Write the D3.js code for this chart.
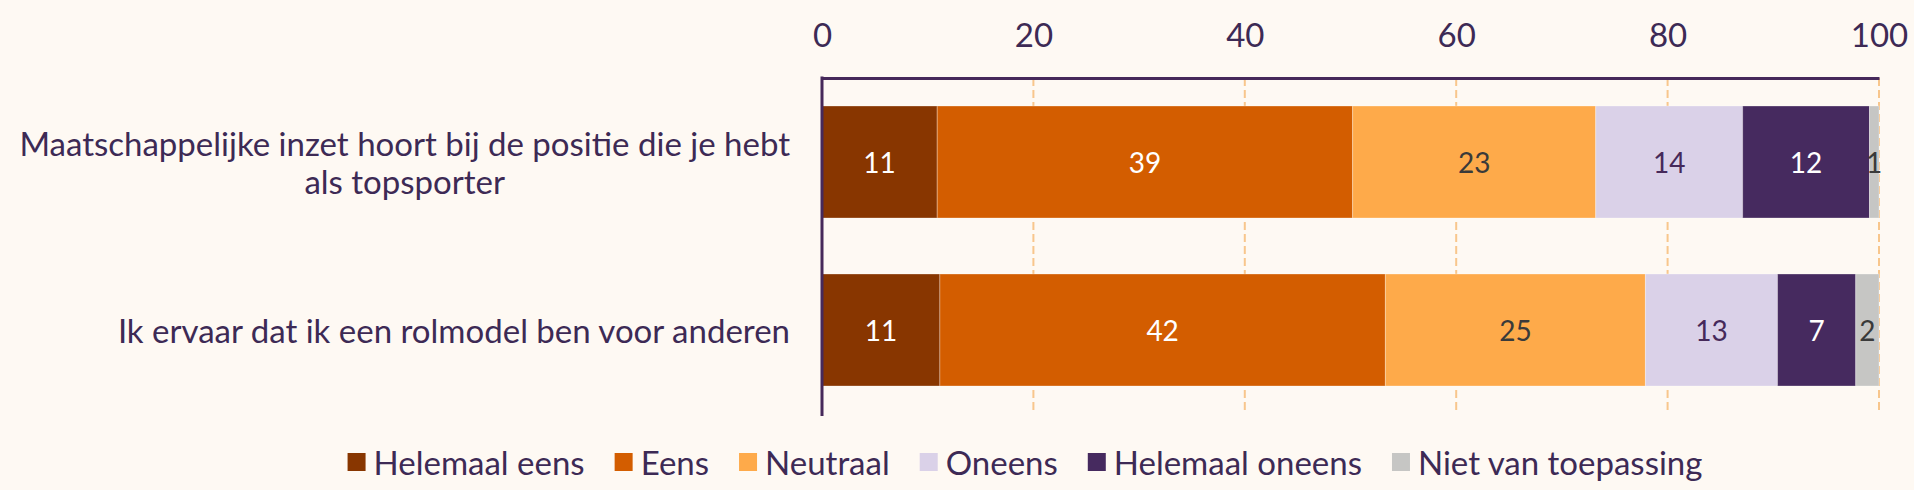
<!DOCTYPE html>
<html>
<head>
<meta charset="utf-8">
<script src="https://cdn.jsdelivr.net/npm/d3@7"></script>
<style>
    html, body { margin: 0; padding: 0; background: #fef9f3; }
    svg { display: block; font-family: Lato, "Noto Sans", sans-serif; }
</style>
</head>
<body>
<svg id="chart" width="1914" height="490"></svg>
<script>
const statements = [
    'Maatschappelijke inzet hoort bij de positie die je hebt als topsporter',
    'Ik ervaar dat ik een rolmodel ben voor anderen'
];
const answers = ['Helemaal eens', 'Eens', 'Neutraal', 'Oneens', 'Helemaal oneens', 'Niet van toepassing'];
const colors = ['#883600', '#d35d00', '#feaa4a', '#dad1e8', '#462a5f', '#c6c6c4'];
const labelColors = ['#ffffff', '#ffffff', '#3a3a3a', '#46295a', '#ffffff', '#3a3a3a'];
// percentages per statement, in the order of answers
const values = [
    [10.9, 39.3, 23.0, 13.9, 12.0, 0.9],
    [11.15, 42.15, 24.6, 12.5, 7.4, 2.2]
];
const xTicks = [0, 20, 40, 60, 80, 100];

const textColor = '#3d2a55';
const fontSize = 33;
const margin = { left: 822, right: 35, top: 78, bottom: 76 };
const width = 1914;
const height = 490;

const svg = d3.select('#chart');

const x = d3.scaleLinear()
    .domain([0, 100])
    .range([margin.left, width - margin.right]);

const y = d3.scaleBand()
    .domain(statements)
    .range([margin.top, height - margin.bottom])
    .paddingInner(1 / 3)
    .paddingOuter(1 / 6);

// gridlines
svg.append('g')
    .selectAll('line')
    .data(xTicks.slice(1))
    .join('line')
    .attr('x1', d => x(d))
    .attr('x2', d => x(d))
    .attr('y1', margin.top)
    .attr('y2', height - margin.bottom)
    .attr('stroke', '#f8c68c')
    .attr('stroke-width', 2)
    .attr('stroke-dasharray', '8,4');

// stacked segments
const rows = values.map((vals, i) => {
    let acc = 0;
    return vals.map((v, j) => {
        const seg = { row: statements[i], key: j, x0: acc, x1: acc + v, value: v };
        acc += v;
        return seg;
    });
});

const rowG = svg.append('g')
    .selectAll('g')
    .data(rows)
    .join('g');

rowG.selectAll('rect')
    .data(d => d)
    .join('rect')
    .attr('x', d => x(d.x0))
    .attr('width', d => x(d.x1) - x(d.x0))
    .attr('y', d => y(d.row))
    .attr('height', y.bandwidth())
    .attr('fill', d => colors[d.key])
    .attr('stroke', 'rgba(255,255,255,0.3)')
    .attr('stroke-width', 1);

rowG.selectAll('text')
    .data(d => d)
    .join('text')
    .attr('x', d => (x(d.x0) + x(d.x1)) / 2)
    .attr('y', d => y(d.row) + y.bandwidth() / 2)
    .attr('text-anchor', 'middle')
    .attr('dominant-baseline', 'central')
    .attr('font-size', 28)
    .attr('fill', d => labelColors[d.key])
    .text(d => Math.round(d.value));

// top axis
const xAxis = svg.append('g')
    .attr('transform', `translate(0,${margin.top})`)
    .call(d3.axisTop(x).tickValues(xTicks).tickSize(0).tickPadding(31));
xAxis.select('.domain')
    .attr('stroke', '#46295a')
    .attr('stroke-width', 3);
xAxis.selectAll('text')
    .attr('font-size', fontSize)
    .attr('font-family', 'Lato, sans-serif')
    .attr('fill', textColor);

// left axis line
svg.append('line')
    .attr('x1', margin.left)
    .attr('x2', margin.left)
    .attr('y1', margin.top - 1.5)
    .attr('y2', height - margin.bottom + 2)
    .attr('stroke', '#46295a')
    .attr('stroke-width', 3);

// statement labels, wrapped, lines centred within a right-aligned block
const labelRight = 790;
const lineHeight = 38;
const labelG = svg.append('g');
statements.forEach(s => {
    const probe = labelG.append('text').attr('font-size', fontSize);
    const words = s.split(' ');
    const lines = [];
    let line = [];
    words.forEach(w => {
        line.push(w);
        probe.text(line.join(' '));
        if (probe.node().getComputedTextLength() > 790 && line.length > 1) {
            line.pop();
            lines.push(line.join(' '));
            line = [w];
        }
    });
    lines.push(line.join(' '));
    const widths = lines.map(l => { probe.text(l); return probe.node().getComputedTextLength(); });
    probe.remove();
    const blockCenter = labelRight - d3.max(widths) / 2;
    const cy = y(s) + y.bandwidth() / 2;
    labelG.append('text')
        .attr('font-size', fontSize)
        .attr('fill', textColor)
        .attr('text-anchor', 'middle')
        .selectAll('tspan')
        .data(lines)
        .join('tspan')
        .attr('x', blockCenter)
        .attr('y', (d, i) => cy + (i - (lines.length - 1) / 2) * lineHeight)
        .attr('dominant-baseline', 'central')
        .text(d => d);
});

// legend
const legend = svg.append('g');
const items = legend.selectAll('g')
    .data(answers)
    .join('g');
items.append('rect')
    .attr('width', 18)
    .attr('height', 18)
    .attr('y', -9)
    .attr('fill', (d, i) => colors[i]);
items.append('text')
    .attr('x', 26)
    .attr('dominant-baseline', 'central')
    .attr('font-size', fontSize)
    .attr('fill', textColor)
    .text(d => d);
let lx = 0;
items.each(function () {
    d3.select(this).attr('transform', `translate(${lx},0)`);
    lx += 26 + d3.select(this).select('text').node().getComputedTextLength() + 30;
});
const legendWidth = lx - 30;
legend.attr('transform', `translate(${1025 - legendWidth / 2},462)`);
</script>
</body>
</html>
